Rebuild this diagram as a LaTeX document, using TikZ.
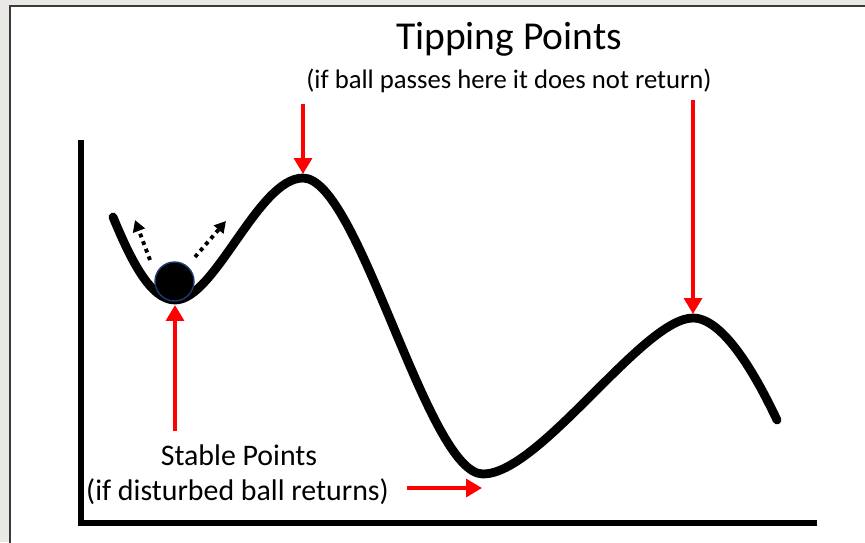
\documentclass[tikz,border=0pt]{standalone}
\usepackage{xcolor}
\usepackage{fontspec}
\setmainfont{Carlito}
\usepackage{tikz}
\usetikzlibrary{arrows.meta}

\definecolor{pagegray}{HTML}{EAE8E5}
\definecolor{framegray}{HTML}{3A3A3A}
\definecolor{balledge}{HTML}{1F3A6E}

\begin{document}
\begin{tikzpicture}[
  x={(0.02cm,0)}, y={(0,-0.02cm)},
  lbl/.style={inner sep=0pt, anchor=base},
  axis/.style={line width=3.3pt, black},
  landscape/.style={line width=5pt, black, line cap=round},
  redarrow/.style={line width=2.8pt, red,
                   -{Triangle[length=9pt, width=10pt]}},
  kick/.style={line width=2.2pt, black, dash pattern=on 2.2pt off 2.4pt,
               -{Triangle[length=6.5pt, width=7pt]}},
]
  % page and frame
  \useasboundingbox (0,0) rectangle (865,542);
  \fill[pagegray] (0,0) rectangle (865,542);
  \filldraw[fill=white, draw=framegray, line width=1.2pt] (9.8,5.8) rectangle (880,560);

  % axes
  \coordinate (origin) at (81,523);
  \coordinate (ytop) at (81,140);
  \coordinate (xend) at (817,523);
  \draw[axis] (ytop) -- (81,526);
  \draw[axis] (78,523) -- (xend);

  % the landscape: two wells, two peaks
  \coordinate (start) at (113,217);
  \coordinate (botA) at (175,300);
  \coordinate (topA) at (303,178);
  \coordinate (botB) at (483,474);
  \coordinate (topB) at (693,318);
  \coordinate (stop) at (777,420);
  \draw[landscape] (start)
    .. controls (130,258) and (150,300) .. (botA)
    .. controls (215,300) and (258,178) .. (topA)
    .. controls (359,178) and (427,474) .. (botB)
    .. controls (540,474) and (643,318) .. (topB)
    .. controls (728,318) and (765,395) .. (stop);

  % arrow ends on the curve
  \coordinate (peakA) at (303,174);
  \coordinate (peakB) at (693,314);
  \coordinate (wellA) at (175,305);
  \coordinate (wellB) at (482,488);

  % ball and its kicks
  \filldraw[fill=black, draw=balledge, line width=0.8pt] (174.5,281.5) circle (19.5);
  \coordinate (kickL) at (150,260);
  \coordinate (kickLend) at (135,220);
  \coordinate (kickR) at (195,257);
  \coordinate (kickRend) at (226,221);
  \draw[kick] (kickL) -- (kickLend);
  \draw[kick] (kickR) -- (kickRend);

  % labels
  \node[lbl, font=\fontsize{22.5}{26}\selectfont] (tip) at (509,49) {Tipping Points};
  \node[lbl, font=\fontsize{15.2}{18}\selectfont] (tipnote) at (509,88)
    {(if ball passes here it does not return)};
  \node[lbl, font=\fontsize{17}{20}\selectfont] (stab) at (239,465) {Stable Points};
  \node[lbl, font=\fontsize{17}{20}\selectfont] (stabnote) at (237.5,500)
    {(if disturbed ball returns)};

  % red arrows
  \coordinate (fromA) at (303,104);
  \coordinate (fromB) at (693,100);
  \coordinate (fromW) at (175,431);
  \coordinate (fromR) at (407,488);
  \draw[redarrow] (fromA) -- (peakA);
  \draw[redarrow] (fromB) -- (peakB);
  \draw[redarrow] (fromW) -- (wellA);
  \draw[redarrow] (fromR) -- (wellB);
\end{tikzpicture}
\end{document}
